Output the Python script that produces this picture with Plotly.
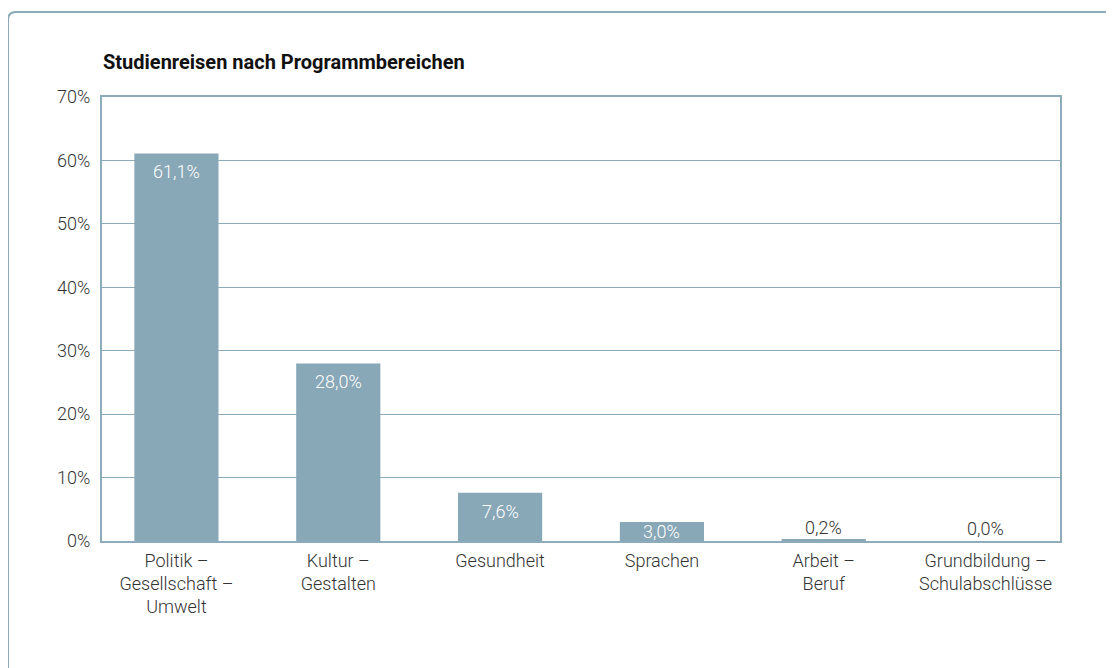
import plotly.graph_objects as go

# Daten
kategorien = [
    "Politik –<br>Gesellschaft –<br>Umwelt",
    "Kultur –<br>Gestalten",
    "Gesundheit",
    "Sprachen",
    "Arbeit –<br>Beruf",
    "Grundbildung –<br>Schulabschlüsse",
]
anteile = [61.1, 28.0, 7.6, 3.0, 0.2, 0.0]
y_ticks = [0, 10, 20, 30, 40, 50, 60, 70]

BAR = "#88a7b7"
LINE = "#8eabbb"
FONT = "Roboto, sans-serif"

# Seite hat 8px Body-Rand -> Figur entsprechend verschoben
OFF = 8
W, H = 1114 - OFF, 668 - OFF
L, R, T, B = 102 - OFF, 1060 - OFF, 97 - OFF, 541 - OFF


def px(x):
    return (x - OFF - L) / (R - L)


def py(y):
    return (B - (y - OFF)) / (B - T)


xs = list(range(len(kategorien)))

fig = go.Figure()
fig.add_trace(go.Bar(
    x=xs,
    y=anteile,
    marker=dict(color=BAR, line=dict(width=0)),
    width=0.52,
    hoverinfo="skip",
))

# Wertelabels: innen weiß (große Balken), außen dunkel (kleine Balken)
annotations = []
for x, v in zip(xs, anteile):
    txt = f"{v:.1f}%".replace(".", ",")
    if v > 5:
        pos = dict(y=v, yanchor="top", yshift=-6, color="white")
    elif v > 1:
        # flacher Balken: Label unten verankert, ragt leicht über den Balken
        pos = dict(y=0, yanchor="bottom", yshift=-3, color="white")
    else:
        pos = dict(y=v, yanchor="bottom", yshift=0, color="#333333")
    annotations.append(dict(
        x=x, y=pos["y"], xref="x", yref="y", text=txt, showarrow=False,
        yanchor=pos["yanchor"], yshift=pos["yshift"],
        font=dict(size=18, family=FONT, weight=300, color=pos["color"]),
    ))

# abgerundeter Rahmen oben links
x0, y0 = px(8), py(12)
rx, ry = 8 / (R - L), 8 / (B - T)
path = (f"M {x0},{py(720)} L {x0},{y0 - ry} "
        f"Q {x0},{y0} {x0 + rx},{y0} L {px(1200)},{y0}")

fig.update_layout(
    width=W, height=H,
    margin=dict(l=L, r=W - R, t=T, b=H - B, pad=0),
    paper_bgcolor="white",
    plot_bgcolor="white",
    showlegend=False,
    font=dict(family=FONT, size=18, color="#333333", weight=300),
    title=dict(
        text="<b>Studienreisen nach Programmbereichen</b>",
        x=px(103), xref="paper", xanchor="left",
        y=1 - (62 - OFF) / H, yanchor="middle",
        font=dict(size=20, color="#111111", family=FONT),
    ),
    xaxis=dict(
        range=[-0.46, 5.46],
        tickvals=xs,
        ticktext=kategorien,
        showgrid=False,
        showline=True, linecolor=LINE, linewidth=2, mirror=True,
        ticks="", ticklabelstandoff=2,
        tickfont=dict(size=18, color="#333333", weight=300),
        zeroline=False,
    ),
    yaxis=dict(
        range=[0, 70],
        tickvals=y_ticks,
        ticktext=[f"{v}%" for v in y_ticks],
        showgrid=True, gridcolor=LINE, gridwidth=1,
        showline=True, linecolor=LINE, linewidth=2, mirror=True,
        ticks="", ticklabelstandoff=6,
        tickfont=dict(size=18, color="#333333", weight=300),
        zeroline=False,
    ),
    annotations=annotations,
    shapes=[dict(
        type="path", xref="paper", yref="paper", path=path,
        line=dict(color=LINE, width=2), layer="below",
    )],
)

fig.write_html("out.html")
